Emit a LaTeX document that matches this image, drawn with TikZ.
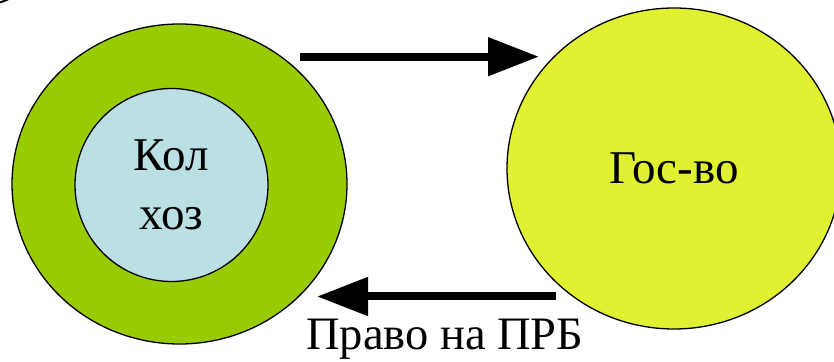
\documentclass[tikz,border=0pt]{standalone}
\usepackage{fontspec}
\setmainfont{Liberation Serif}
\usetikzlibrary{arrows.meta,shapes.geometric}
\definecolor{outergreen}{RGB}{153,204,0}
\definecolor{innerblue}{RGB}{187,224,227}
\definecolor{govyellow}{RGB}{224,241,50}
\tikzset{
  blob/.style={ellipse,draw=black,line width=1.3pt,inner sep=0pt},
  bigtext/.style={font=\fontsize{47}{59}\selectfont,align=center},
  fatarrow/.style={line width=8pt,-{Triangle[length=51pt,width=37pt]}}
}
\begin{document}
\begin{tikzpicture}[x=1pt,y=1pt]
\useasboundingbox (0,0) rectangle (834,361);
\clip (0,0) rectangle (834,361);
% tiny cut-off stroke at top-left
\draw[line width=2pt] (0,358.5) -- (8,361.5);
\node[blob,fill=outergreen,minimum width=335pt,minimum height=320pt] (farm) at (179.5,177) {};
\node[blob,circle,fill=innerblue,minimum size=193pt,bigtext] (kolkhoz) at (171.5,176) {Кол\\хоз};
\node[blob,fill=govyellow,minimum width=334pt,minimum height=321pt,bigtext] (state) at (674,192.5) {Гос-во};
\coordinate (topstart) at (300,304.3);
\coordinate (topend) at (539,304.3);
\coordinate (botstart) at (556,64.5);
\coordinate (botend) at (317,64.5);
\draw[fatarrow] (topstart) -- (topend);
\draw[fatarrow] (botstart) -- (botend);
\node[anchor=base west,inner sep=0pt,font=\fontsize{46.5}{55}\selectfont] (label) at (306,12) {Право на ПРБ};
\end{tikzpicture}
\end{document}
